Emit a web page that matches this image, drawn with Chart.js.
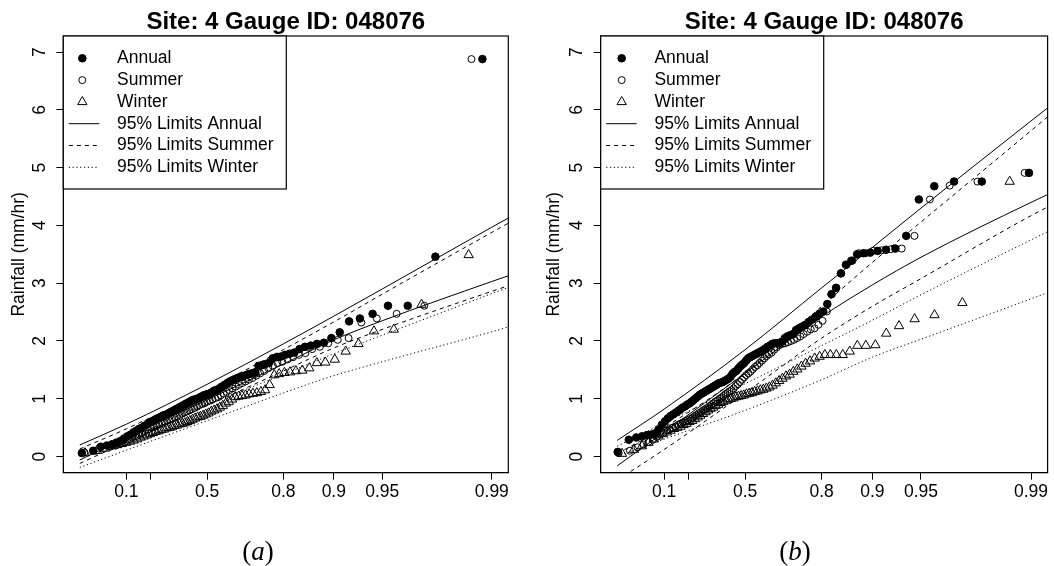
<!DOCTYPE html>
<html>
<head>
<meta charset="utf-8">
<script src="https://cdn.jsdelivr.net/npm/chart.js@4.4.1/dist/chart.umd.min.js"></script>
<style>
  html, body { margin: 0; padding: 0; background: #fff; }
  #wrap { position: relative; width: 1054px; height: 566px; }
  .panel { position: absolute; top: 0; width: 527px; height: 566px; }
  .caption { position: absolute; top: 536px; width: 80px; text-align: center;
             font: 27px "Liberation Serif", "DejaVu Serif", serif; line-height: 30px; color: #000; }
</style>
</head>
<body>
<div id="wrap">
  <div class="panel" style="left:0"><canvas id="chartA" width="527" height="566"></canvas></div>
  <div class="panel" style="left:527px"><canvas id="chartB" width="527" height="566"></canvas></div>
  <div class="caption" style="left:218px">(<i>a</i>)</div>
  <div class="caption" style="left:755px">(<i>b</i>)</div>
</div>
<script>
const chartTitle = 'Site: 4 Gauge ID: 048076';
const yLabel = 'Rainfall (mm/hr)';
const seriesNames = ['Annual', 'Summer', 'Winter'];
const limitNames = ['95% Limits Annual', '95% Limits Summer', '95% Limits Winter'];

// probability axis (Gumbel paper)
const tickProbs = [0.1, 0.2, 0.5, 0.8, 0.9, 0.95, 0.99];
const tickLabels = ['0.1', '', '0.5', '0.8', '0.9', '0.95', '0.99'];
const yTicks = [0, 1, 2, 3, 4, 5, 6, 7];
const limitProbs = [0.01, 0.1, 0.5, 0.8, 0.9, 0.95, 0.99, 0.995];

// panel (a): sorted maxima
const annualA = [0.06, 0.10, 0.17, 0.19, 0.21, 0.24, 0.27, 0.31, 0.35, 0.38,
  0.42, 0.45, 0.48, 0.50, 0.53, 0.56, 0.59, 0.61, 0.63, 0.65,
  0.67, 0.69, 0.71, 0.72, 0.74, 0.76, 0.78, 0.80, 0.82, 0.84,
  0.86, 0.88, 0.90, 0.92, 0.94, 0.96, 0.98, 0.99, 1.00, 1.02,
  1.04, 1.06, 1.07, 1.08, 1.10, 1.12, 1.14, 1.16, 1.18, 1.21,
  1.24, 1.27, 1.30, 1.32, 1.34, 1.36, 1.38, 1.39, 1.41, 1.43,
  1.44, 1.46, 1.57, 1.58, 1.60, 1.62, 1.70, 1.72, 1.73, 1.76,
  1.78, 1.80, 1.86, 1.90, 1.92, 1.95, 1.97, 2.05, 2.15, 2.34,
  2.39, 2.47, 2.61, 2.61, 3.46, 6.88];
const summerA = [0.07, 0.10, 0.14, 0.17, 0.19, 0.22, 0.25, 0.29, 0.32, 0.35,
  0.38, 0.41, 0.44, 0.47, 0.50, 0.52, 0.54, 0.56, 0.58, 0.60,
  0.62, 0.64, 0.66, 0.68, 0.70, 0.72, 0.74, 0.76, 0.78, 0.80,
  0.82, 0.84, 0.87, 0.89, 0.91, 0.93, 0.95, 0.97, 0.99, 1.01,
  1.03, 1.06, 1.09, 1.12, 1.15, 1.18, 1.21, 1.24, 1.27, 1.30,
  1.33, 1.36, 1.40, 1.44, 1.48, 1.53, 1.57, 1.62, 1.64, 1.68,
  1.72, 1.76, 1.79, 1.86, 1.90, 1.96, 2.02, 2.05, 2.32, 2.39,
  2.47, 2.61, 6.88];
const winterA = [0.06, 0.10, 0.14, 0.18, 0.20, 0.22, 0.24, 0.26, 0.28, 0.30,
  0.33, 0.35, 0.37, 0.39, 0.41, 0.43, 0.44, 0.46, 0.47, 0.49,
  0.50, 0.51, 0.53, 0.54, 0.56, 0.57, 0.58, 0.60, 0.62, 0.64,
  0.66, 0.68, 0.69, 0.71, 0.73, 0.75, 0.78, 0.80, 0.82, 0.85,
  0.88, 0.92, 0.95, 0.99, 1.03, 1.04, 1.05, 1.06, 1.08, 1.09,
  1.10, 1.12, 1.15, 1.24, 1.41, 1.43, 1.45, 1.46, 1.48, 1.49,
  1.53, 1.62, 1.63, 1.68, 1.82, 1.95, 2.17, 2.20, 2.63, 3.49];
// panel (a): 95% limits at limitProbs
const annualUpA = [0.20, 0.56, 1.25, 1.95, 2.43, 2.90, 3.97, 4.42];
const annualLoA = [-0.06, 0.33, 0.98, 1.60, 2.02, 2.35, 3.03, 3.31];
const summerUpA = [0.13, 0.48, 1.15, 1.85, 2.33, 2.81, 3.88, 4.33];
const summerLoA = [-0.12, 0.25, 0.88, 1.48, 1.88, 2.20, 2.86, 3.13];
const winterUpA = [0.04, 0.36, 0.90, 1.42, 1.78, 2.10, 2.82, 3.12];
const winterLoA = [-0.19, 0.11, 0.62, 1.10, 1.40, 1.64, 2.16, 2.40];

// panel (b): sorted maxima
const annualB = [0.08, 0.29, 0.33, 0.35, 0.37, 0.38, 0.40, 0.47, 0.55, 0.61,
  0.66, 0.70, 0.73, 0.76, 0.79, 0.82, 0.85, 0.87, 0.90, 0.92,
  0.95, 0.98, 1.01, 1.04, 1.07, 1.09, 1.11, 1.13, 1.15, 1.17,
  1.19, 1.21, 1.23, 1.25, 1.27, 1.28, 1.29, 1.31, 1.33, 1.35,
  1.38, 1.43, 1.46, 1.48, 1.52, 1.56, 1.59, 1.62, 1.66, 1.70,
  1.72, 1.74, 1.76, 1.78, 1.80, 1.82, 1.84, 1.87, 1.90, 1.92,
  1.95, 1.96, 1.96, 1.97, 1.99, 2.05, 2.08, 2.10, 2.12, 2.19,
  2.22, 2.25, 2.28, 2.33, 2.37, 2.42, 2.47, 2.51, 2.64, 2.81,
  2.92, 3.17, 3.32, 3.39, 3.50, 3.52, 3.53, 3.56, 3.58, 3.60,
  3.82, 4.45, 4.68, 4.76, 4.76, 4.91];
const summerB = [0.06, 0.10, 0.16, 0.21, 0.25, 0.29, 0.34, 0.38, 0.41, 0.45,
  0.47, 0.50, 0.52, 0.55, 0.57, 0.59, 0.61, 0.63, 0.65, 0.67,
  0.70, 0.72, 0.75, 0.77, 0.80, 0.82, 0.84, 0.87, 0.89, 0.92,
  0.95, 0.97, 1.00, 1.02, 1.05, 1.08, 1.10, 1.13, 1.15, 1.18,
  1.22, 1.25, 1.29, 1.33, 1.37, 1.41, 1.44, 1.47, 1.51, 1.55,
  1.58, 1.62, 1.66, 1.70, 1.74, 1.77, 1.80, 1.85, 1.89, 1.93,
  1.95, 1.96, 1.98, 2.00, 2.02, 2.05, 2.08, 2.12, 2.16, 2.20,
  2.22, 2.28, 2.35, 2.51, 2.81, 2.92, 3.17, 3.32, 3.39, 3.52,
  3.52, 3.56, 3.57, 3.59, 3.60, 3.82, 4.45, 4.69, 4.76, 4.91];
const winterB = [0.05, 0.12, 0.18, 0.24, 0.30, 0.35, 0.39, 0.42, 0.45, 0.48,
  0.50, 0.52, 0.55, 0.57, 0.60, 0.62, 0.65, 0.68, 0.71, 0.74,
  0.77, 0.80, 0.83, 0.85, 0.88, 0.90, 0.93, 0.95, 0.97, 0.99,
  1.00, 1.01, 1.03, 1.04, 1.05, 1.06, 1.08, 1.09, 1.10, 1.12,
  1.13, 1.15, 1.16, 1.18, 1.20, 1.23, 1.27, 1.31, 1.35, 1.39,
  1.42, 1.47, 1.51, 1.56, 1.61, 1.65, 1.70, 1.73, 1.76, 1.76,
  1.76, 1.76, 1.82, 1.92, 1.92, 1.93, 2.13, 2.26, 2.38, 2.45,
  2.66, 4.76];
// panel (b): 95% limits at limitProbs
const annualUpB = [0.28, 0.82, 1.85, 2.92, 3.62, 4.30, 5.81, 6.45];
const annualLoB = [-0.16, 0.42, 1.44, 2.42, 2.97, 3.45, 4.40, 4.78];
const summerUpB = [0.05, 0.50, 1.45, 2.60, 3.36, 4.06, 5.64, 6.32];
const summerLoB = [-0.41, 0.12, 1.10, 2.05, 2.60, 3.08, 4.17, 4.58];
const winterUpB = [0.18, 0.58, 1.26, 1.92, 2.36, 2.80, 3.75, 4.15];
const winterLoB = [0.00, 0.30, 0.80, 1.33, 1.72, 2.03, 2.73, 3.03];

Chart.defaults.font.family = "'Liberation Sans', Arial, Helvetica, sans-serif";
Chart.defaults.color = '#000';

function gumbel(p) { return -Math.log(-Math.log(p)); }
const xLo = gumbel(0.01), xHi = gumbel(0.99);
const xPad = 0.04 * (xHi - xLo);

// Weibull plotting positions i/(n+1)
function pointsOf(values) {
  return values.map((v, i) => ({ x: gumbel((i + 1) / (values.length + 1)), y: v }));
}
function lineOf(values) {
  return values.map((v, i) => ({ x: gumbel(limitProbs[i]), y: v }));
}

const dashes = [[], [4, 4], [1.2, 2.6]];
const symbols = [
  { pointStyle: 'circle', radius: 3.8, fill: '#000' },
  { pointStyle: 'circle', radius: 3.5, fill: 'rgba(0,0,0,0)' },
  { pointStyle: 'triangle', radius: 5.4, fill: 'rgba(0,0,0,0)' }
];

function drawSymbol(ctx, s, x, y) {
  ctx.beginPath();
  if (s.pointStyle === 'circle') {
    ctx.arc(x, y, s.radius, 0, Math.PI * 2);
  } else {
    const r = s.radius;
    ctx.moveTo(x, y - r);
    ctx.lineTo(x + 0.866 * r, y + r / 2);
    ctx.lineTo(x - 0.866 * r, y + r / 2);
    ctx.closePath();
  }
  ctx.fillStyle = s.fill;
  ctx.fill();
  ctx.lineWidth = 1;
  ctx.strokeStyle = '#000';
  ctx.stroke();
}

const framePlugin = {
  id: 'frame',
  afterDraw(chart) {
    const { ctx, chartArea: a } = chart;
    ctx.save();
    ctx.strokeStyle = '#000';
    ctx.lineWidth = 1.2;
    ctx.strokeRect(a.left, a.top, a.right - a.left, a.bottom - a.top);
    ctx.restore();
  }
};

const boxLegend = {
  id: 'boxLegend',
  afterDraw(chart, args, o) {
    const { ctx, chartArea: a } = chart;
    const x0 = a.left, y0 = a.top;
    ctx.save();
    ctx.fillStyle = '#fff';
    ctx.fillRect(x0, y0, o.width, o.height);
    ctx.strokeStyle = '#000';
    ctx.lineWidth = 1.2;
    ctx.strokeRect(x0, y0, o.width, o.height);
    ctx.font = "17.5px 'Liberation Sans', Arial, sans-serif";
    ctx.textBaseline = 'middle';
    ctx.textAlign = 'left';
    const items = chart.data.datasets.filter(d => d.inLegend);
    items.forEach((d, i) => {
      const y = y0 + o.firstRow + i * o.rowGap;
      if (d.showLine) {
        ctx.beginPath();
        ctx.setLineDash(d.borderDash || []);
        ctx.lineWidth = 1;
        ctx.strokeStyle = '#000';
        ctx.moveTo(x0 + o.lineFrom, y);
        ctx.lineTo(x0 + o.lineTo, y);
        ctx.stroke();
        ctx.setLineDash([]);
      } else {
        drawSymbol(ctx, d.symbol, x0 + o.symbolX, y);
      }
      ctx.fillStyle = '#000';
      ctx.fillText(d.label, x0 + o.textX, y);
    });
    ctx.restore();
  }
};

function makePanel(id, series, limits, geom) {
  const datasets = [];
  series.forEach((vals, k) => {
    const s = symbols[k];
    datasets.push({
      label: seriesNames[k],
      data: pointsOf(vals),
      inLegend: true,
      symbol: s,
      order: 3 - k,
      pointStyle: s.pointStyle,
      pointRadius: s.radius,
      pointBackgroundColor: s.fill,
      pointBorderColor: '#000',
      pointBorderWidth: 1,
      showLine: false
    });
  });
  limits.forEach((pair, k) => {
    pair.forEach((vals, j) => {
      datasets.push({
        label: limitNames[k],
        data: lineOf(vals),
        inLegend: j === 0,
        order: 0,
        showLine: true,
        cubicInterpolationMode: 'monotone',
        borderColor: '#000',
        borderWidth: 1,
        borderDash: dashes[k],
        pointRadius: 0,
        fill: false,
        clip: 0
      });
    });
  });

  new Chart(document.getElementById(id), {
    type: 'scatter',
    data: { datasets },
    plugins: [framePlugin, boxLegend],
    options: {
      responsive: false,
      animation: false,
      events: [],
      layout: { padding: { left: 0, right: geom.rightPad, top: 0, bottom: 0 } },
      scales: {
        x: {
          type: 'linear',
          min: xLo - xPad,
          max: xHi + xPad,
          afterBuildTicks: s => { s.ticks = tickProbs.map(p => ({ value: gumbel(p) })); },
          afterFit: s => { s.height = geom.xAxisHeight; },
          grid: { drawOnChartArea: false, drawTicks: true, tickLength: 7, color: '#000', lineWidth: 1 },
          border: { display: true, color: '#000', width: 1 },
          ticks: {
            autoSkip: false, maxRotation: 0, minRotation: 0, padding: 2,
            font: { size: 17.5 }, color: '#000',
            callback: (v, i) => tickLabels[i]
          }
        },
        y: {
          type: 'linear',
          min: -0.28,
          max: 7.28,
          afterBuildTicks: s => { s.ticks = yTicks.map(v => ({ value: v })); },
          afterFit: s => { s.width = geom.yAxisWidth; },
          grid: { drawOnChartArea: false, drawTicks: true, tickLength: 7, color: '#000', lineWidth: 1 },
          border: { display: true, color: '#000', width: 1 },
          ticks: {
            minRotation: 90, maxRotation: 90, crossAlign: 'center', padding: geom.yTickPad,
            font: { size: 17.5 }, color: '#000',
            callback: v => String(v)
          },
          title: {
            display: true, text: yLabel, color: '#000',
            font: { size: 17.5 }, padding: { top: geom.yTitlePad, bottom: 0 }
          }
        }
      },
      plugins: {
        legend: { display: false },
        tooltip: { enabled: false },
        title: {
          display: true, text: chartTitle, fullSize: false, color: '#000',
          font: { size: 24, weight: 'bold', lineHeight: 1 },
          padding: { top: 10, bottom: 2 }
        },
        boxLegend: {
          width: 223, height: 153, firstRow: 22.3, rowGap: 21.8,
          symbolX: geom.symbolX, lineFrom: 5.5, lineTo: 36, textX: 53.7
        }
      }
    }
  });
}

makePanel('chartA',
  [annualA, summerA, winterA],
  [[annualUpA, annualLoA], [summerUpA, summerLoA], [winterUpA, winterLoA]],
  { yAxisWidth: 63.3, rightPad: 18.7, xAxisHeight: 93.3, yTickPad: 11, yTitlePad: 8.5, symbolX: 19 });

makePanel('chartB',
  [annualB, summerB, winterB],
  [[annualUpB, annualLoB], [summerUpB, summerLoB], [winterUpB, winterLoB]],
  { yAxisWidth: 73.7, rightPad: 6, xAxisHeight: 93.3, yTickPad: 12, yTitlePad: 17, symbolX: 21 });
</script>
</body>
</html>
